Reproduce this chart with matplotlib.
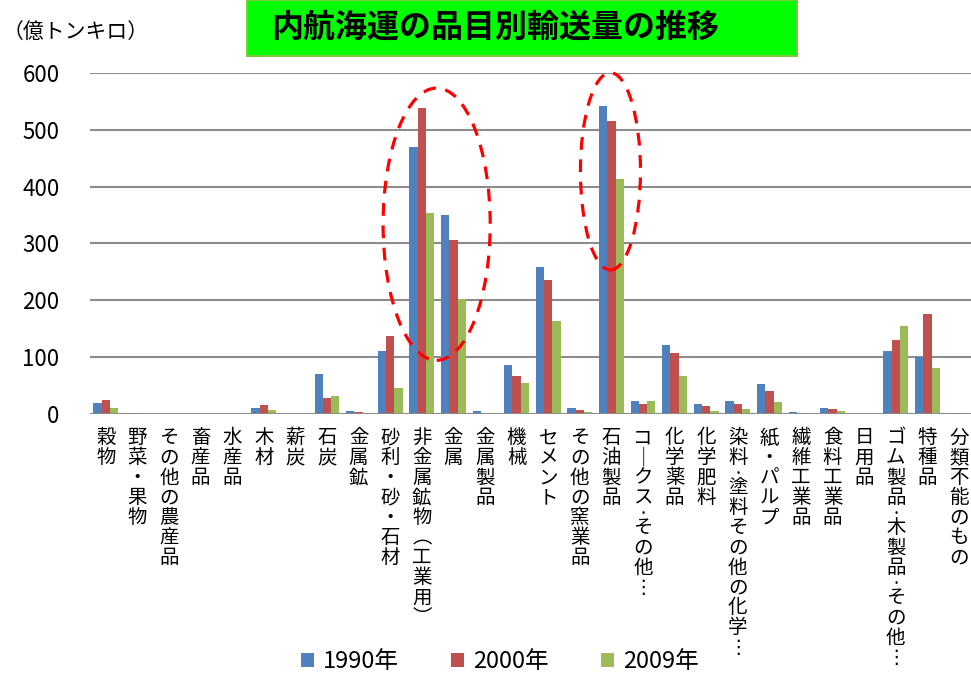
import numpy as np
import matplotlib
matplotlib.use("Agg")
import matplotlib.pyplot as plt
from matplotlib.patches import Ellipse, Rectangle

plt.rcParams['font.family'] = ['Noto Sans CJK JP', 'DejaVu Sans']

# 品目
categories = ['穀物', '野菜・果物', 'その他の農産品', '畜産品', '水産品', '木材', '薪炭',
              '石炭', '金属鉱', '砂利・砂・石材', '非金属鉱物(工業用)', '金属', '金属製品',
              '機械', 'セメント', 'その他の窯業品', '石油製品', 'コークス･その他…',
              '化学薬品', '化学肥料', '染料･塗料その他の化学…', '紙・パルプ', '繊維工業品',
              '食料工業品', '日用品', 'ゴム製品･木製品･その他…', '特種品', '分類不能のもの']

# 億トンキロ
v1990 = [19, 2, 0, 0, 0, 11, 0, 71, 6, 111, 470, 351, 5, 87, 259, 11, 542, 22,
         121, 18, 23, 52, 3, 11, 0, 111, 100, 1]
v2000 = [25, 1, 0, 0, 0, 16, 0, 29, 3, 137, 538, 306, 2, 66, 236, 7, 516, 18,
         108, 14, 18, 40, 1, 8, 0, 131, 176, 1]
v2009 = [11, 0, 0, 0, 0, 7, 0, 31, 1, 45, 354, 202, 1, 54, 164, 4, 414, 23,
         67, 5, 9, 21, 0, 6, 0, 155, 81, 0]

years = ['1990年', '2000年', '2009年']
colors = ['#4F81BD', '#C0504D', '#9BBB59']
y_ticks = [0, 100, 200, 300, 400, 500, 600]

W, H = 971, 675
fig = plt.figure(figsize=(W / 100, H / 100), dpi=100)

# plot area in pixels (left, top, right, bottom)
px_l, px_t, px_r, px_b = 90, 73, 971, 414
ax = fig.add_axes([px_l / W, 1 - px_b / H, (px_r - px_l) / W, (px_b - px_t) / H])

x = np.arange(len(categories))
bw = 0.26
for i, vals in enumerate([v1990, v2000, v2009]):
    ax.bar(x + (i - 1) * bw, vals, width=bw, color=colors[i], label=years[i],
           zorder=3, linewidth=0)

step = 31.6  # pixel per category
ax.set_xlim(-0.5, -0.5 + (px_r - px_l) / step)
ax.set_ylim(0, 600)
ax.set_yticks(y_ticks)
ax.tick_params(axis='y', length=0, pad=22, labelsize=16)
ax.set_xticks([])
for s in ['top', 'right', 'left', 'bottom']:
    ax.spines[s].set_visible(False)
ax.grid(axis='y', color='#8C8C8C', linewidth=1.5, zorder=0)
ax.axhline(0, color='#8C8C8C', linewidth=2, zorder=4)

# 縦書きラベル (1文字ずつ置く, 半角の中点は半分の送り)
vert_map = {'ー': '｜', '－': '｜', '—': '｜', '―': '｜', '(': '︵', ')': '︶', '…': '⋮'}
pitch = 14.4  # pt (= 20px)
for xi, name in zip(x, categories):
    y_off = -10.0
    for c in name:
        if c == '･':
            adv = pitch / 2
            ax.annotate('•', xy=(xi, 0), xytext=(0, y_off - adv / 2), textcoords='offset points',
                        ha='center', va='center', fontsize=7, annotation_clip=False)
        else:
            adv = pitch
            ax.annotate(vert_map.get(c, c), xy=(xi, 0), xytext=(0, y_off - adv / 2),
                        textcoords='offset points', ha='center', va='center', fontsize=14,
                        annotation_clip=False)
        y_off -= adv

# 赤い破線の楕円
ax.add_patch(Ellipse((10.47, 334), 3.39, 479, fill=False, edgecolor='#FF0000',
                     linewidth=2.3, linestyle=(0, (4, 3)), zorder=6, clip_on=False))
ax.add_patch(Ellipse((15.97, 427), 1.9, 347, fill=False, edgecolor='#FF0000',
                     linewidth=2.3, linestyle=(0, (4, 3)), zorder=6, clip_on=False))

# タイトル
fig.patches.append(Rectangle((247 / W, 1 - 56 / H), 550 / W, 56 / H, transform=fig.transFigure,
                             facecolor='#00FF00', edgecolor='#7AC943', linewidth=1.5))
fig.text(495 / W, 1 - 28 / H, '内航海運の品目別輸送量の推移', ha='center', va='center',
         fontsize=23, fontweight='bold')
fig.text(3 / W, 1 - 32 / H, '（億トンキロ）', ha='left', va='center', fontsize=15)

fig.legend(loc='center', bbox_to_anchor=(500 / W, 1 - 662 / H), ncol=3, frameon=False,
           fontsize=17, handlelength=0.55, handleheight=0.55, handletextpad=0.4,
           columnspacing=2.2)

fig.savefig('out.png', dpi=100)
